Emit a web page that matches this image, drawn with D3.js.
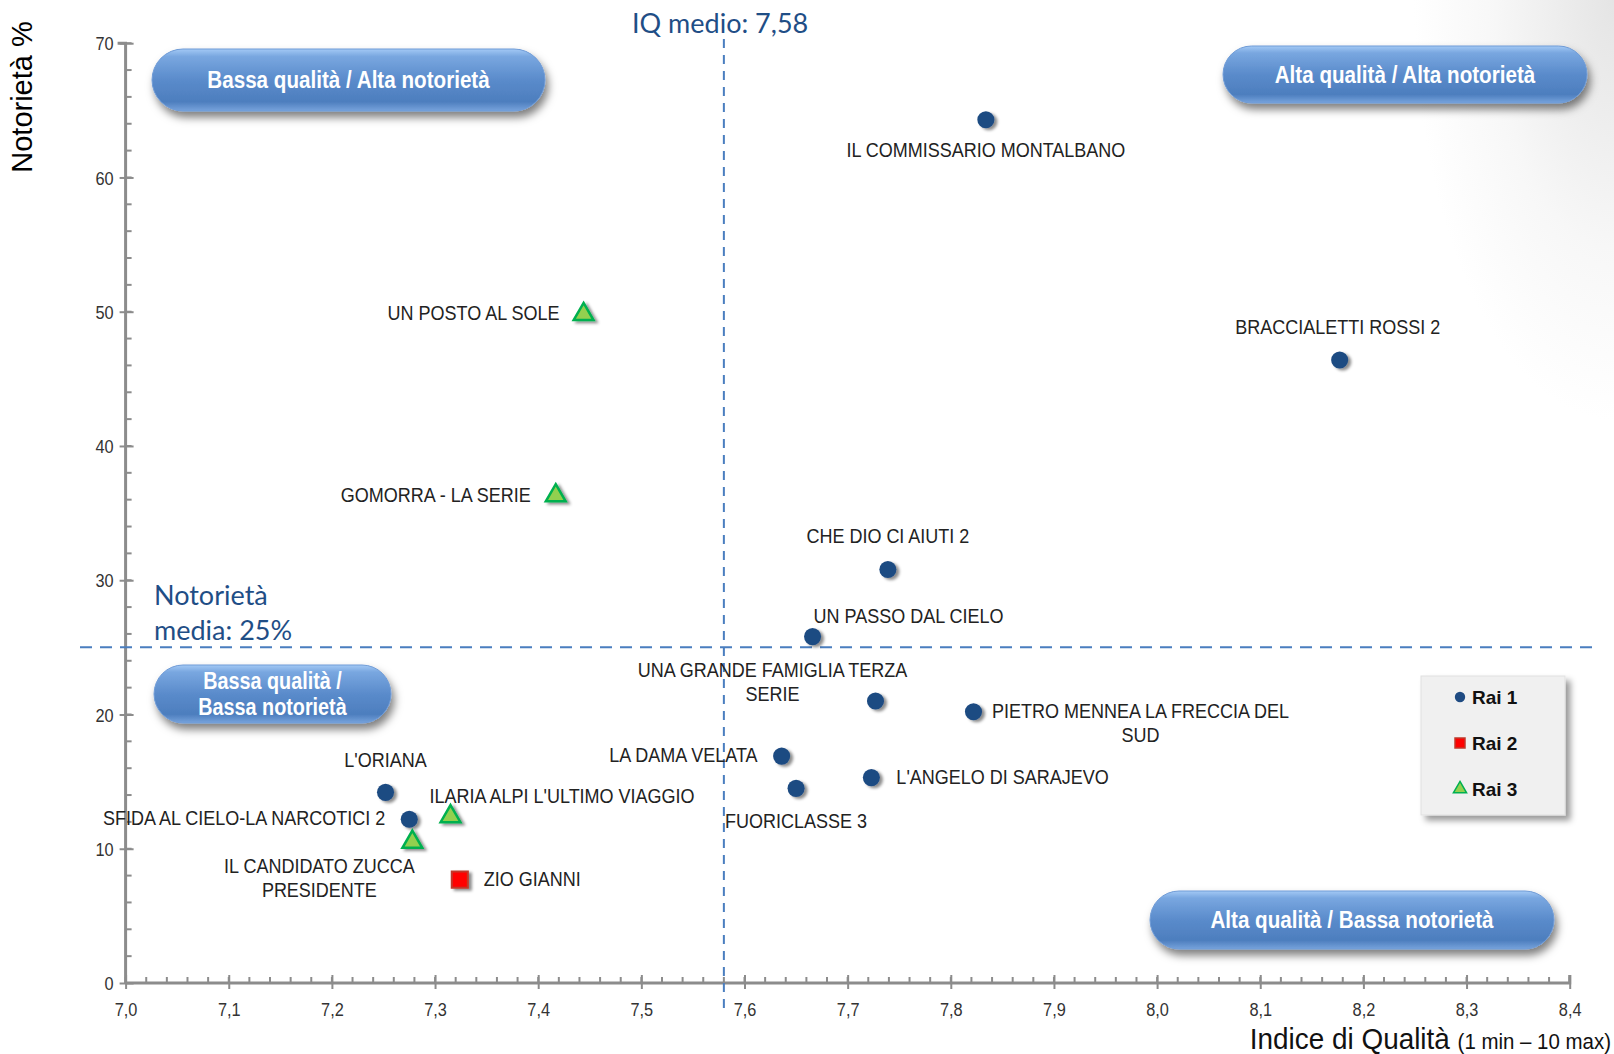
<!DOCTYPE html>
<html><head><meta charset="utf-8">
<script src="https://cdn.jsdelivr.net/npm/d3@7"></script>
<style>
html,body{margin:0;padding:0;background:#fff;}
svg{display:block;}
.narrow{font-family:"Liberation Sans Narrow","Arial Narrow","Liberation Sans",Arial,sans-serif;}
</style></head>
<body>
<svg id="chart" width="1614" height="1054"></svg>
<script>
// ---- data ----
const names = ["IL COMMISSARIO MONTALBANO","BRACCIALETTI ROSSI 2","UN POSTO AL SOLE","GOMORRA - LA SERIE","CHE DIO CI AIUTI 2","UN PASSO DAL CIELO","UNA GRANDE FAMIGLIA TERZA|SERIE","PIETRO MENNEA LA FRECCIA DEL|SUD","LA DAMA VELATA","L'ANGELO DI SARAJEVO","FUORICLASSE 3","L'ORIANA","SFIDA AL CIELO-LA NARCOTICI 2","ILARIA ALPI L'ULTIMO VIAGGIO","IL CANDIDATO ZUCCA|PRESIDENTE","ZIO GIANNI"];
const channels = ["Rai 1","Rai 1","Rai 3","Rai 3","Rai 1","Rai 1","Rai 1","Rai 1","Rai 1","Rai 1","Rai 1","Rai 1","Rai 1","Rai 3","Rai 3","Rai 2"];
const qualityIndex = [7.834,8.177,7.444,7.417,7.739,7.666,7.727,7.822,7.636,7.723,7.650,7.252,7.275,7.315,7.278,7.324];
const notoriety = [64.3,46.4,49.8,36.3,30.8,25.8,21.0,20.2,16.9,15.3,14.5,14.2,12.2,12.4,10.5,7.7];
const legendItems = ["Rai 1","Rai 2","Rai 3"];
const xTicks = [7.0,7.1,7.2,7.3,7.4,7.5,7.6,7.7,7.8,7.9,8.0,8.1,8.2,8.3,8.4];
const yTicks = [0,10,20,30,40,50,60,70];
const meanIQ = 7.58, meanNotoriety = 25;
const quadrantLabels = ["Bassa qualità / Alta notorietà","Alta qualità / Alta notorietà","Bassa qualità /|Bassa notorietà","Alta qualità / Bassa notorietà"];

// ---- layout (label offsets in px relative to each point) ----
const labelLayout = [
  {dx:0,dy:37,a:"middle"},{dx:-2,dy:-26,a:"middle"},{dx:-24,dy:6,a:"end"},{dx:-25,dy:6,a:"end"},
  {dx:0,dy:-26,a:"middle"},{dx:1,dy:-14,a:"start"},{dx:-103,dy:-24,a:"middle"},{dx:167,dy:6,a:"middle"},
  {dx:-24,dy:6,a:"end"},{dx:25,dy:6,a:"start"},{dx:0,dy:40,a:"middle"},{dx:0,dy:-25,a:"middle"},
  {dx:-24,dy:6,a:"end"},{dx:-21,dy:-14,a:"start"},{dx:-93,dy:31,a:"middle"},{dx:24,dy:6,a:"start"}
];

const svg = d3.select("#chart");
const W = 1614, H = 1054;
const defs = svg.append("defs");

// background edge shading
const rg = defs.append("radialGradient").attr("id","bg").attr("cx",1).attr("cy",0).attr("r",1)
  .attr("gradientUnits","objectBoundingBox");
rg.append("stop").attr("offset",0).attr("stop-color","#d9d9d9");
rg.append("stop").attr("offset",0.6).attr("stop-color","#f4f4f4");
rg.append("stop").attr("offset",1).attr("stop-color","#ffffff");
svg.append("rect").attr("width",W).attr("height",H).attr("fill","#fff");
svg.append("rect").attr("x",W-200).attr("y",0).attr("width",200).attr("height",420).attr("fill","url(#bg)").attr("opacity",0.7);

// pill gradient
const pg = defs.append("linearGradient").attr("id","pill").attr("x1",0).attr("y1",0).attr("x2",0).attr("y2",1);
pg.append("stop").attr("offset",0).attr("stop-color","#a3c9f5");
pg.append("stop").attr("offset",0.12).attr("stop-color","#79a7e0");
pg.append("stop").attr("offset",0.5).attr("stop-color","#5a8bcb");
pg.append("stop").attr("offset",0.85).attr("stop-color","#4d7ebe");
pg.append("stop").attr("offset",1).attr("stop-color","#77a3dc");
const sh = defs.append("filter").attr("id","pillShadow").attr("x","-10%").attr("y","-20%").attr("width","120%").attr("height","160%");
sh.append("feDropShadow").attr("dx",3).attr("dy",6).attr("stdDeviation",4).attr("flood-color","#000").attr("flood-opacity",0.5);
const ms = defs.append("filter").attr("id","markShadow").attr("x","-50%").attr("y","-50%").attr("width","200%").attr("height","200%");
ms.append("feDropShadow").attr("dx",3).attr("dy",2).attr("stdDeviation",1.8).attr("flood-color","#000").attr("flood-opacity",0.45);
const ls = defs.append("filter").attr("id","legShadow").attr("x","-20%").attr("y","-20%").attr("width","140%").attr("height","140%");
ls.append("feDropShadow").attr("dx",5).attr("dy",5).attr("stdDeviation",3).attr("flood-color","#000").attr("flood-opacity",0.4);

// scales
const x = d3.scaleLinear().domain([7.0,8.4]).range([125.6,1569.7]);
const y = d3.scaleLinear().domain([0,70]).range([983,43.2]);

// axes
const axisColor = "#8c8c8c";
const xAxis = svg.append("g").attr("transform",`translate(0,${y(0)})`)
  .call(d3.axisBottom(x).tickValues(xTicks).tickSize(8).tickFormat(d=>d3.format(".1f")(d).replace(".",",")));
xAxis.append("g").selectAll("line").data(d3.range(7.0,8.4001,0.02)).join("line")
  .attr("x1",d=>x(d)).attr("x2",d=>x(d)).attr("y1",-6).attr("y2",0).attr("stroke",axisColor).attr("stroke-width",2);
const yAxis = svg.append("g").attr("transform",`translate(${x(7.0)},0)`)
  .call(d3.axisLeft(y).tickValues(yTicks).tickSize(8));
yAxis.append("g").selectAll("line").data(d3.range(0,70.001,2)).join("line")
  .attr("x1",0).attr("x2",6).attr("y1",d=>y(d)).attr("y2",d=>y(d)).attr("stroke",axisColor).attr("stroke-width",2);
[xAxis,yAxis].forEach(g=>{
  g.select(".domain").attr("stroke",axisColor).attr("stroke-width",3);
  g.selectAll(".tick line").attr("stroke",axisColor).attr("stroke-width",2);
  g.selectAll(".tick text").attr("class","narrow").attr("font-size",19).attr("fill","#333");
});
xAxis.select(".domain").attr("d",`M${x(7.0)},0H${x(8.4)}V-8`);
yAxis.select(".domain").attr("d",`M0,${y(0)}V${y(70)}H-8`);
xAxis.selectAll(".tick line").attr("y1",-8).attr("y2",6);
xAxis.selectAll(".tick text").attr("y",0).attr("dy",0)
  .attr("transform","translate(0,33) scale(0.86,1)");
yAxis.selectAll(".tick line").attr("x1",8).attr("x2",-6);
yAxis.selectAll(".tick text").attr("x",0).attr("dy","0.35em").attr("transform","translate(-12,0) scale(0.86,1)");

// mean lines
const dashColor = "#4a7ebf";
svg.append("line").attr("x1",x(meanIQ)).attr("x2",x(meanIQ)).attr("y1",39).attr("y2",y(0)+26)
  .attr("stroke",dashColor).attr("stroke-width",2).attr("stroke-dasharray","9,7");
svg.append("line").attr("x1",80).attr("x2",1600).attr("y1",y(meanNotoriety)).attr("y2",y(meanNotoriety))
  .attr("stroke",dashColor).attr("stroke-width",2).attr("stroke-dasharray","12,8");
svg.append("text").attr("x",632).attr("y",33).attr("font-family","Lato, 'Open Sans', sans-serif")
  .attr("font-size",27).attr("fill","#1f4e86").text("IQ medio: 7,58");
const mt = svg.append("text").attr("font-family","Lato, 'Open Sans', sans-serif").attr("font-size",27).attr("fill","#1f4e86");
mt.append("tspan").attr("x",154).attr("y",605).text("Notorietà");
mt.append("tspan").attr("x",154).attr("y",640).text("media: 25%");

// quadrant pills
const pills = [
  {x0:152,x1:545,y0:49,y1:111,fs:24},
  {x0:1223,x1:1587,y0:46,y1:103,fs:24},
  {x0:154,x1:391,y0:665,y1:723,fs:23},
  {x0:1150,x1:1554,y0:891,y1:949,fs:24}
];
pills.forEach((p,i)=>{
  const g = svg.append("g");
  const h = p.y1-p.y0, w = p.x1-p.x0;
  g.append("rect").attr("x",p.x0).attr("y",p.y0).attr("width",w).attr("height",h).attr("rx",h/2).attr("ry",h/2)
    .attr("fill","url(#pill)").attr("stroke","#6f9bd6").attr("stroke-width",1).attr("filter","url(#pillShadow)");
  const lines = quadrantLabels[i].split("|");
  const cy = (p.y0+p.y1)/2;
  const t = g.append("text").attr("class","narrow").attr("text-anchor","middle").attr("fill","#fff")
    .attr("font-weight","bold").attr("font-size",p.fs)
    .attr("transform",`translate(${(p.x0+p.x1)/2},${cy}) scale(0.86,1)`);
  lines.forEach((l,j)=>{
    t.append("tspan").attr("x",0).attr("y",8+(j-(lines.length-1)/2)*26).text(l);
  });
});

// markers
const symFor = {"Rai 1":d3.symbolCircle,"Rai 2":d3.symbolSquare,"Rai 3":d3.symbolTriangle};
const sizeFor = {"Rai 1":230,"Rai 2":260,"Rai 3":170};
const fillFor = {"Rai 1":"#1f4b82","Rai 2":"#ff0000","Rai 3":"#92d050"};
const strokeFor = {"Rai 1":"#1f4b82","Rai 2":"#c0392b","Rai 3":"#00b050"};
const swFor = {"Rai 1":0,"Rai 2":2,"Rai 3":2.5};

const pts = names.map((n,i)=>({name:n,ch:channels[i],q:qualityIndex[i],n:notoriety[i],lay:labelLayout[i]}));
svg.append("g").selectAll("path").data(pts).join("path")
  .attr("transform",d=>`translate(${x(d.q)},${y(d.n)})`)
  .attr("d",d=>d3.symbol(symFor[d.ch],sizeFor[d.ch])())
  .attr("fill",d=>fillFor[d.ch]).attr("stroke",d=>strokeFor[d.ch]).attr("stroke-width",d=>swFor[d.ch])
  .attr("filter","url(#markShadow)");

const lab = svg.append("g").selectAll("text").data(pts).join("text").attr("class","narrow")
  .attr("font-size",20).attr("fill","#222").attr("text-anchor",d=>d.lay.a)
  .attr("transform",d=>`translate(${x(d.q)+d.lay.dx},${y(d.n)+d.lay.dy}) scale(0.9,1)`);
lab.each(function(d){
  const lines = d.name.split("|");
  lines.forEach((l,j)=>{
    d3.select(this).append("tspan").attr("x",0).attr("y",j*24).text(l);
  });
});

// legend
const lg = svg.append("g");
lg.append("rect").attr("x",1421).attr("y",676).attr("width",144).attr("height",139).attr("fill","#f0f0f0")
  .attr("stroke","#e0e0e0").attr("filter","url(#legShadow)");
legendItems.forEach((c,i)=>{
  const cy = 697+i*46;
  lg.append("path").attr("transform",`translate(${1460},${cy})`)
    .attr("d",d3.symbol(symFor[c], c==="Rai 1"?85:c==="Rai 2"?100:75)())
    .attr("fill",fillFor[c]).attr("stroke",strokeFor[c]).attr("stroke-width",c==="Rai 1"?0:1.5);
  lg.append("text").attr("x",1472).attr("y",cy+7).attr("font-family","'Liberation Sans',Arial,sans-serif")
    .attr("font-weight","bold").attr("font-size",19).attr("fill","#111").text(c);
});

// axis titles
svg.append("text").attr("transform","translate(32,97) rotate(-90)").attr("text-anchor","middle")
  .attr("font-family","'Liberation Sans',Arial,sans-serif").attr("font-size",29).attr("fill","#000").text("Notorietà %");
const xt = svg.append("text").attr("class","narrow").attr("text-anchor","end").attr("fill","#111")
  .attr("transform","translate(1611,1049) scale(0.93,1)");
xt.append("tspan").attr("font-size",30).text("Indice di Qualità ");
xt.append("tspan").attr("font-size",22).text("(1 min – 10 max)");
</script>
</body></html>
